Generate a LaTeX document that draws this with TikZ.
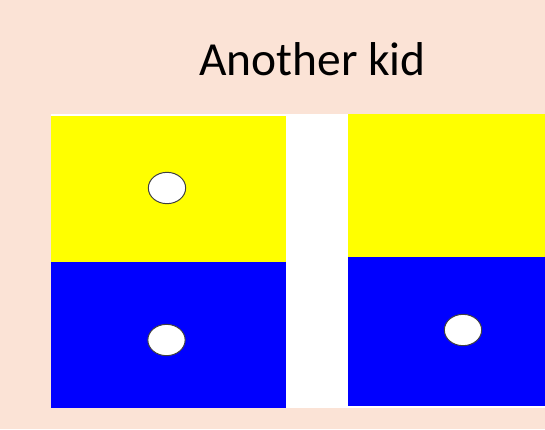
\documentclass[tikz,border=0pt]{standalone}
\usepackage{fontspec}
\setmainfont{Carlito}
\usetikzlibrary{shapes.geometric}
\definecolor{peach}{HTML}{FBE3D6}
\definecolor{kidyellow}{HTML}{FFFF00}
\definecolor{kidblue}{HTML}{0000FF}
\begin{document}
\begin{tikzpicture}[x=0.75pt,y=-0.75pt,
half/.style={inner sep=0,outer sep=0,draw=none,anchor=north west},
hole/.style={ellipse,draw=black!75,fill=white,line width=0.75pt,minimum width=28pt,minimum height=23.5pt,inner sep=0}]
\fill[peach] (0,0) rectangle (545,429);
\fill[white] (51,114) rectangle (545,408);
\node[anchor=base,font=\fontsize{35.6}{42}\selectfont] (title) at (312.5,75.7) {Another kid};
% left card
\node[half,fill=kidyellow,minimum width=176.25pt,minimum height=109.5pt] (ltop) at (51,116) {};
\node[half,fill=kidblue,minimum width=176.25pt,minimum height=109.5pt] (lbot) at (51,262) {};
% right card
\node[half,fill=kidyellow,minimum width=147.75pt,minimum height=107.25pt] (rtop) at (348,114) {};
\node[half,fill=kidblue,minimum width=147.75pt,minimum height=111.75pt] (rbot) at (348,257) {};
% holes
\node[hole] (hole1) at (167,188) {};
\node[hole] (hole2) at (166.5,340) {};
\node[hole] (hole3) at (463,330) {};
\end{tikzpicture}
\end{document}
